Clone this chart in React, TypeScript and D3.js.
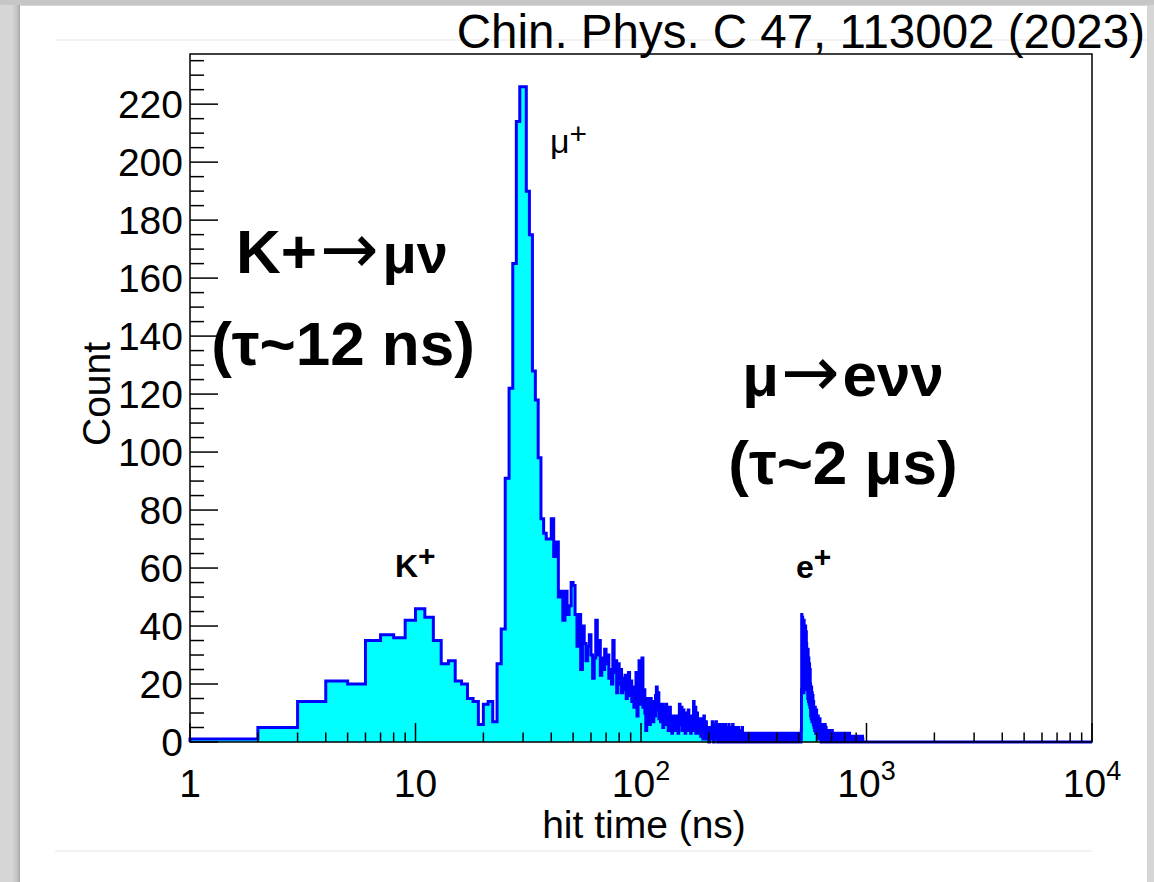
import React from 'react';
import * as d3 from 'd3';

const W = 1154;
const H = 882;

// ---- Histogram data: counts per 1-ns bin, starting at bin [1,2) ----
const countsRise = [1, 5, 14, 21, 20, 35, 37, 36, 42, 46, 43, 35, 27, 28, 21, 20, 15, 14, 6, 13, 14, 7, 27, 39, 91, 122, 165, 214, 226, 226, 190, 175, 128, 118, 98, 77, 72, 70]; // 1..38
const countsFall = [
  70, 77, 64, 69, 50, 52, 42, 52, 44, 47,
  55, 54, 44, 33, 44, 25, 40, 34, 28, 33,
  37, 30, 22, 29, 42, 30, 35, 23, 29, 25,
  32, 27, 30, 22, 25, 20, 35, 24, 28, 17,
  27, 20, 25, 17, 22, 18, 23, 15, 20, 24,
  16, 21, 14, 19, 12, 17, 24, 9, 18, 28, 13, 20,
]; // 39..100
const countsTail = [
  29, 12, 18, 10, 4, 15, 8, 13, 6, 15,
  10, 14, 7, 12, 9, 16, 19, 11, 17, 8,
  13, 7, 11, 13, 5, 10, 12, 6, 13, 8,
  11, 4, 9, 12, 7, 9, 3, 8, 6, 9,
  4, 7, 9, 5, 8, 3, 7, 13, 6, 10,
  12, 4, 8, 11, 5, 9, 3, 10, 6, 8,
  4, 11, 7, 5, 9, 3, 8, 6, 4, 7,
  14, 5, 9, 12, 3, 7, 10, 4, 8, 6, 3, 7,
]; // 101..182
const countsLow = [
  5, 2, 8, 3, 6, 1, 4, 9, 2, 5,
  3, 7, 1, 4, 2, 5, 3, 0, 4, 2,
  5, 1, 3, 4, 7, 2, 5, 0, 3, 6,
  1, 4, 7, 2, 3, 5, 0, 4, 2, 6,
  1, 3, 5, 0, 2, 4, 6, 1, 3, 2,
  5, 0, 3, 6, 1, 4, 2, 0, 5, 3,
  1, 4, 6, 2, 0, 3, 5, 1, 2, 4,
  0, 3, 6, 1, 2, 4, 0, 3, 5, 1,
  2, 0, 4, 2, 1, 3, 0, 5, 2, 1,
  3, 0, 2, 4, 1, 0, 3, 2, 5, 1,
]; // 183..282
const countsFlat = [
  2, 0, 3, 1, 0, 2, 1, 3, 0, 1,
  0, 2, 1, 0, 3, 1, 2, 0, 1, 2,
  3, 0, 1, 2, 0, 1, 3, 0, 2, 1,
  0, 1, 2, 3, 1, 0, 2, 1, 0, 3,
  1, 2, 0, 1, 0, 3, 1, 2, 0, 1,
  2, 1, 0, 3, 0, 1, 2, 0, 1, 0,
  1, 3, 0, 2, 1, 0, 1, 2, 0, 3,
  0, 1, 2, 0, 1, 3, 0, 2, 1, 0,
  2, 0, 1, 0, 3, 1, 0, 1, 2, 0,
  1, 0, 2, 1, 0, 3, 2, 0, 1, 1,
  0, 2, 1, 3, 0, 1, 0, 2, 1, 0,
  3, 1, 0, 2, 1, 0, 2, 0, 1, 3,
  0, 1, 0, 2, 1, 2, 0, 3, 1, 0,
  1, 2, 0, 1, 0, 1, 3, 0, 2, 1,
  0, 3, 1, 0, 2, 0, 1, 2, 0, 1,
  2, 0, 1, 3, 0, 1, 0, 2, 1, 0,
  1, 0, 2, 0, 1, 3, 1, 0, 2, 0,
  0, 1, 3, 1, 0, 2, 0, 1, 0, 2,
  3, 0, 1, 0, 2, 1, 0, 2, 1, 0,
  1, 2, 0, 1, 3, 0, 1, 0, 2, 1,
  0, 1, 2, 0, 1, 0, 3, 1, 0, 2,
  1, 0, 1, 2, 0, 3, 0, 1, 2, 0,
  2, 1, 0, 1, 0, 2, 1, 3, 0, 1,
]; // 283..512
const countsElectron = [
  1, 4, 18,
  44, 28, 40, 22, 43, 31, 37, 19, 41, 26, 38, 17, 42, 29, 35, 20, 39, 24, 36, 18, 40, 27, 33, 21, 38, 19, 34, 25, 32,
  18, 31, 22, 28, 15, 32, 19, 26, 14, 29, 21, 24, 13, 27, 17, 23, 12, 25,
  14, 20, 9, 18, 12, 16, 8, 19, 11, 15, 7, 17, 10, 13, 8, 16, 9, 12, 6, 14,
  7, 12, 5, 10, 8, 11, 4, 9, 6, 12, 5, 8, 3, 10, 7, 9, 4, 11, 6, 8, 3, 9,
  5, 8, 2, 7, 4, 9, 3, 6, 1, 8, 5, 3, 7, 2, 6, 4, 8, 1, 5,
  3, 6, 1, 4, 2, 5, 0, 3, 6, 2, 4, 1, 5, 3, 0, 4, 2, 6, 1, 3, 5, 2, 0, 4, 3, 1, 5, 2, 4, 0, 3, 6, 1, 2, 4, 0, 3, 5, 1, 2, 4, 0, 3, 2,
  1, 3, 0, 2, 4, 1, 0, 2, 3, 1, 0, 4, 2, 1, 3, 0, 2, 1, 4, 0, 1, 3, 2, 0, 1, 2, 4, 0, 3, 1, 0, 2, 1, 3, 0, 2, 4, 1, 0, 2, 1, 3, 0,
]; // 513..710
const countsLate = [
  1, 0, 2, 0, 1, 3, 0, 1, 0, 2,
  0, 1, 0, 2, 1, 0, 3, 0, 1, 0,
  2, 0, 1, 0, 0, 2, 1, 0, 3, 1,
  0, 2, 0, 1, 0, 1, 2, 0, 0, 3,
  1, 0, 2, 1, 0, 0, 1, 3, 0, 2,
  0, 1, 0, 2, 0, 1, 0, 2, 1, 0,
  3, 0, 1, 0, 2, 0, 0, 1, 2, 0,
  1, 0, 3, 0, 1, 0, 2, 0, 1, 1,
  0, 2, 0, 1, 0, 3, 0, 1, 0, 2,
  1, 0, 0, 2, 1, 0, 1, 0, 3, 0,
  0, 1, 2, 0, 0, 1, 0, 2, 0, 1,
  2, 0, 1, 0, 3, 0, 1, 0, 0, 2,
  0, 1, 0, 2, 0, 1, 0, 0, 1, 3,
  0, 2, 0, 1, 0, 0, 2,
]; // 711..847
const countsEnd = [
  0, 1, 0, 0, 2, 0, 1, 0, 0, 1,
  0, 0, 2, 0, 1, 0, 0, 1, 0, 2,
  0, 1, 0, 0, 0, 2, 0, 1, 0, 0,
  1, 0, 2, 0, 0, 1, 0, 0, 2, 0,
  0, 0, 1, 0, 2, 0, 0, 1, 0, 0,
  2, 0, 0, 1, 0, 0, 1, 0, 2, 0,
  0, 1, 0, 0, 2, 0, 0, 0, 1, 0,
  1, 0, 0, 2, 0, 0, 1, 0, 0, 1,
  0, 2, 0, 0, 1, 0, 0, 0, 2, 0,
  0, 0, 1, 0, 0, 2, 0, 1, 0, 0,
  1, 0, 0, 0, 2, 0, 0, 1, 0, 0,
  0, 2, 0, 0, 1, 0,
]; // 848..963

const FIRST_BIN = 1; // ns
const BIN_WIDTH = 1; // ns
const X_DOMAIN: [number, number] = [1, 10000];
const Y_DOMAIN: [number, number] = [0, 237.3];

const yMajorTicks = [0, 20, 40, 60, 80, 100, 120, 140, 160, 180, 200, 220];
const yMinorStep = 5;
const xMajorTicks = [1, 10, 100, 1000, 10000];
const xTickLabels = [
  { base: '1', exp: '' },
  { base: '10', exp: '' },
  { base: '10', exp: '2' },
  { base: '10', exp: '3' },
  { base: '10', exp: '4' },
];

const FONT = "'Liberation Sans', Arial, Helvetica, sans-serif";
const ARROW_FONT = "'DejaVu Sans', sans-serif";

export default function App() {
  const left = 190, right = 1092, top = 54, bottom = 742;
  const x = d3.scaleLog().domain(X_DOMAIN).range([left, right]);
  const y = d3.scaleLinear().domain(Y_DOMAIN).range([bottom, top]);

  const counts = [
    ...countsRise, ...countsFall, ...countsTail, ...countsLow,
    ...countsFlat, ...countsElectron, ...countsLate, ...countsEnd,
  ];
  const pts: [number, number][] = [[FIRST_BIN, 0]];
  counts.forEach((c, i) => {
    const lo = FIRST_BIN + i * BIN_WIDTH;
    pts.push([lo, c]);
    pts.push([lo + BIN_WIDTH, c]);
  });
  const lastEdge = FIRST_BIN + counts.length * BIN_WIDTH;
  pts.push([lastEdge, 0]);
  pts.push([X_DOMAIN[1], 0]);

  const line = d3.line<[number, number]>().x((d) => x(d[0])).y((d) => y(d[1]));
  const area = d3
    .area<[number, number]>()
    .x((d) => x(d[0]))
    .y0(y(0))
    .y1((d) => y(d[1]));

  const xMinor: number[] = [];
  xMajorTicks.slice(0, -1).forEach((d) => {
    for (let k = 2; k <= 9; k++) xMinor.push(d * k);
  });
  const yMinor = d3.range(0, Y_DOMAIN[1], yMinorStep).filter((v) => v % 20 !== 0);

  return (
    <svg
      width={W}
      height={H}
      style={{ position: 'absolute', left: 0, top: 0, display: 'block' }}
      fontFamily={FONT}
    >
      <defs>
        <linearGradient id="shadowL" x1="0" x2="1" y1="0" y2="0">
          <stop offset="0" stopColor="#d6d6d6" />
          <stop offset="0.6" stopColor="#c4c4c4" />
          <stop offset="1" stopColor="#a9a9a9" />
        </linearGradient>
        <clipPath id="plotClip">
          <rect x={left - 2} y={top} width={right - left + 4} height={bottom - top + 3} />
        </clipPath>
      </defs>
      {/* page background / window frame */}
      <rect x={0} y={0} width={W} height={H} fill="#d6d6d6" />
      <rect x={0} y={0} width={W} height={5} fill="#c6c6c6" />
      <rect x={12} y={5} width={8} height={H - 5} fill="url(#shadowL)" />
      <rect x={20} y={6} width={1127} height={H - 6} fill="#ffffff" />
      <line x1={55} x2={1147} y1={40} y2={40} stroke="#e6e6e6" strokeWidth={1} />
      <line x1={55} x2={1092} y1={851} y2={851} stroke="#e6e6e6" strokeWidth={1} />

      {/* histogram */}
      <g clipPath="url(#plotClip)">
        <path d={area(pts) || ''} fill="#00ffff" stroke="none" />
        <path
          d={line(pts) || ''}
          fill="none"
          stroke="#0000ff"
          strokeWidth={3}
          strokeLinejoin="miter"
        />
      </g>

      {/* ticks */}
      <g stroke="#000" strokeWidth={1.5}>
        {yMajorTicks.map((v) => (
          <line key={'ym' + v} x1={left} x2={left + 28} y1={y(v)} y2={y(v)} />
        ))}
        {yMinor.map((v) => (
          <line key={'yn' + v} x1={left} x2={left + 14} y1={y(v)} y2={y(v)} />
        ))}
        {xMajorTicks.map((v) => (
          <line key={'xm' + v} x1={x(v)} x2={x(v)} y1={bottom} y2={bottom - 19} />
        ))}
        {xMinor.map((v) => (
          <line key={'xn' + v} x1={x(v)} x2={x(v)} y1={bottom} y2={bottom - 9.5} />
        ))}
      </g>
      <rect
        x={left}
        y={top}
        width={right - left}
        height={bottom - top}
        fill="none"
        stroke="#000"
        strokeWidth={1.5}
      />

      {/* y tick labels */}
      <g fontSize={39} fill="#000" textAnchor="end">
        {yMajorTicks.map((v) => (
          <text key={'yl' + v} x={183} y={y(v) + 14}>
            {v}
          </text>
        ))}
      </g>
      {/* x tick labels */}
      <g fill="#000" textAnchor="middle">
        {xMajorTicks.map((v, i) => (
          <text key={'xl' + v} x={x(v)} y={797} fontSize={39}>
            {xTickLabels[i].base}
            {xTickLabels[i].exp ? (
              <tspan fontSize={27} dy={-17}>
                {xTickLabels[i].exp}
              </tspan>
            ) : null}
          </text>
        ))}
      </g>

      {/* axis titles */}
      <text x={644} y={838} fontSize={39} textAnchor="middle" fill="#000">
        hit time (ns)
      </text>
      <text
        transform="translate(110,394) rotate(-90)"
        fontSize={39}
        textAnchor="middle"
        fill="#000"
      >
        Count
      </text>

      {/* citation */}
      <text x={1145} y={48} fontSize={47.5} textAnchor="end" fill="#000">
        Chin. Phys. C 47, 113002 (2023)
      </text>

      {/* annotations */}
      <g fontWeight="bold" fill="#000">
        <text x={342} y={273} fontSize={62} textAnchor="middle">
          K+
          <tspan fontFamily={ARROW_FONT} fontWeight="normal" fontSize={70} dx={3}>→</tspan>
          <tspan fontSize={56} dx={4}>μν</tspan>
        </text>
        <text x={343} y={365} fontSize={62} textAnchor="middle">
          (τ~12 ns)
        </text>
        <text x={843} y={396} fontSize={62} textAnchor="middle">
          <tspan fontSize={60}>μ</tspan>
          <tspan fontFamily={ARROW_FONT} fontWeight="normal" fontSize={70} dx={2}>→</tspan>
          <tspan dx={3}>e</tspan>
          <tspan fontSize={60}>νν</tspan>
        </text>
        <text x={843} y={484} fontSize={62} textAnchor="middle">
          (τ~2 μs)
        </text>
        <text x={395} y={577} fontSize={32}>
          K<tspan fontSize={30} dy={-11}>+</tspan>
        </text>
        <text x={796} y={578} fontSize={32}>
          e<tspan fontSize={30} dy={-11}>+</tspan>
        </text>
      </g>
      <text x={550} y={153} fontSize={34} fill="#000">
        μ<tspan fontSize={30} dy={-9}>+</tspan>
      </text>
    </svg>
  );
}
